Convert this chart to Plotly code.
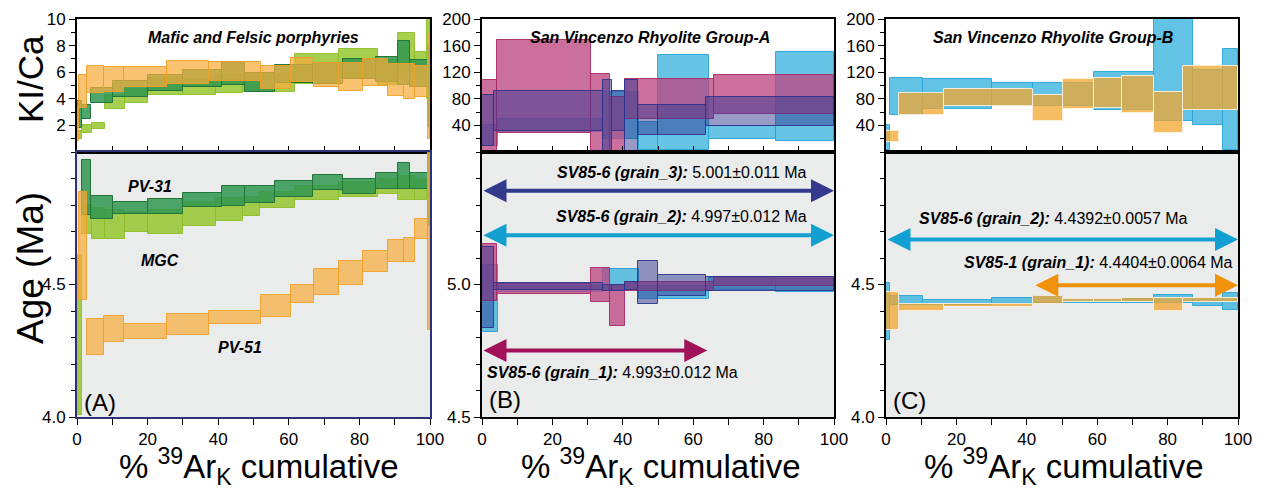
import plotly.graph_objects as go

# ---------------- DATA ----------------
# Panel A (Mafic and Felsic porphyries)
PV31_EDGES = [0, 1.5, 4, 10.2, 20.2, 30, 41, 47.7, 56.2, 66.8, 75.4, 84.8, 90.8, 94.3, 99.3, 100]
PV31_KCA_LO = [1.8, 2.5, 3.7, 4.13, 4.55, 4.9, 5.05, 4.5, 5.2, 5.12, 5.5, 5.25, 5.07, 4.88, 1.9]
PV31_KCA_HI = [3.8, 3.56, 4.8, 5.37, 5.8, 6.2, 6.7, 5.94, 6.56, 6.66, 7.03, 7.18, 8.34, 6.9, 8.0]
PV31_AGE_LO = [None, 4.762, 4.747, 4.765, 4.765, 4.794, 4.796, 4.806, 4.83, 4.857, 4.84, 4.86, 4.86, 4.86, 4.72]
PV31_AGE_HI = [None, 4.97, 4.834, 4.81, 4.823, 4.844, 4.872, 4.872, 4.892, 4.913, 4.9, 4.92, 4.957, 4.92, 4.995]

MGC_EDGES = [0, 1.3, 4.2, 7.9, 13.6, 20, 30, 39.4, 46.9, 51.8, 61.8, 74.3, 85.2, 90.8, 95.8, 99.2, 100]
MGC_KCA_LO = [1.0, 1.4, 1.7, 3.2, 3.7, 4.25, 4.25, 4.43, 4.5, 4.5, 5.12, 5.57, 5.05, 6.04, 5.5, 4.0]
MGC_KCA_HI = [1.6, 2.0, 2.2, 4.25, 4.75, 5.55, 5.4, 5.8, 5.87, 5.87, 7.4, 7.77, 6.9, 8.96, 7.5, 10]
MGC_AGE_LO = [4.007, 4.69, 4.67, 4.67, 4.70, 4.69, 4.72, 4.74, 4.76, 4.787, 4.82, 4.83, 4.84, 4.82, 4.82, None]
MGC_AGE_HI = [4.61, 4.80, 4.787, 4.78, 4.775, 4.78, 4.81, 4.825, 4.83, 4.85, 4.87, 4.888, 4.897, 4.91, 4.897, None]

PV51_EDGES = [0, 0.7, 2.8, 7.6, 13.3, 25.5, 37.4, 52, 60.6, 67.2, 74.3, 81.1, 88.1, 92.5, 95.7, 99.3, 100]
PV51_KCA_LO = [0.8, 3.3, 4.4, 4.5, 4.9, 5.12, 5.37, 4.75, 5.25, 4.9, 4.6, 4.95, 4.2, 4.0, 4.1, 1.0]
PV51_KCA_HI = [3.3, 5.8, 6.5, 6.4, 6.36, 6.86, 6.8, 6.5, 7.1, 6.7, 6.7, 7.0, 6.6, 6.6, 6.5, 8.8]
PV51_AGE_LO = [None, 4.44, 4.234, 4.284, 4.293, 4.31, 4.35, 4.376, 4.43, 4.46, 4.50, 4.546, 4.586, 4.586, 4.67, 4.33]
PV51_AGE_HI = [None, 4.85, 4.37, 4.38, 4.35, 4.389, 4.40, 4.46, 4.50, 4.557, 4.59, 4.626, 4.668, 4.674, 4.747, 4.995]

# Panel B (San Vincenzo Rhyolite Group-A), sample SV85-6
G1_EDGES = [0, 4.4, 31, 36.4, 40.7, 66, 100]
G1_KCA_LO = [1, 29, 1, 1, 50, 57]
G1_KCA_HI = [108, 168, 117, 82, 110, 116]
G1_AGE_LO = [4.937, 4.966, 4.933, 4.842, 4.975, 4.994]
G1_AGE_HI = [5.154, 5.003, 5.063, 5.0, 5.009, 5.03]

G2_EDGES = [0, 4.6, 34.5, 44.7, 50.1, 64.5, 83.6, 100]
G2_KCA_LO = [9, 30, 20, 3, 3, 20, 16]
G2_KCA_HI = [40, 50, 90, 45, 146, 39, 151]
G2_AGE_LO = [4.82, 4.97, 4.98, 4.946, 4.946, 4.98, 4.972]
G2_AGE_HI = [5.073, 4.994, 5.057, 4.994, 4.994, 5.025, 5.019]

G3_EDGES = [0, 3.3, 34.5, 36.9, 40.7, 44.3, 50.1, 63.5, 100]
G3_KCA_LO = [9, 31, 1, 31, 1, 26, 26, 39]
G3_KCA_HI = [86, 91, 108, 91, 108, 70, 70, 82]
G3_AGE_LO = [4.836, 4.98, 4.975, 4.975, 4.98, 4.928, 4.956, 4.975]
G3_AGE_HI = [5.143, 5.004, 5.0, 5.0, 5.01, 5.088, 5.034, 5.029]

# Panel C (San Vincenzo Rhyolite Group-B)
CB_EDGES = [0, 1, 10.4, 30.1, 41.9, 50.2, 59.2, 76.2, 87.3, 95.8, 100]
CB_KCA_LO = [3, 55, 65, 69, 69, 69, 63, 46, 40, 3]
CB_KCA_HI = [40, 112, 110, 104, 104, 104, 120, 205, 124, 155]
CB_AGE_LO = [4.29, 4.424, 4.424, 4.428, 4.43, 4.43, 4.43, 4.43, 4.418, 4.405]
CB_AGE_HI = [4.506, 4.456, 4.44, 4.45, 4.456, 4.445, 4.447, 4.46, 4.45, 4.468]

CO_EDGES = [0, 3.6, 16.5, 41.9, 50.2, 59.2, 67, 76.2, 84.5, 100]
CO_KCA_LO = [15, 55, 69, 46, 65, 66, 58, 29, 63]
CO_KCA_HI = [32, 88, 95, 85, 110, 111, 115, 90, 129]
CO_AGE_LO = [4.33, 4.399, 4.414, 4.428, 4.434, 4.434, 4.433, 4.399, 4.433]
CO_AGE_HI = [4.471, 4.427, 4.427, 4.456, 4.446, 4.446, 4.45, 4.45, 4.45]

# Plateau ages (labels, value, arrow extent)
B_PLATEAUS = [
    ("SV85-6 (grain_3):", "5.001±0.011 Ma", 5.354, 0, 100),
    ("SV85-6 (grain_2):", "4.997±0.012 Ma", 5.186, 0, 100),
    ("SV85-6 (grain_1):", "4.993±0.012 Ma", 4.751, 0, 64),
]
C_PLATEAUS = [
    ("SV85-6 (grain_2):", "4.4392±0.0057 Ma", 4.670, 0, 100),
    ("SV85-1 (grain_1):", "4.4404±0.0064 Ma", 4.497, 42, 100),
]

# ---------------- FIGURE ----------------
W, H = 1267, 493
FONT = "Liberation Sans, Arial, Helvetica, sans-serif"


def px(x):
    return x / W


def py(y):
    return 1 - y / H


def steps(edges, lo, hi, xa, ya, fill, line, lw=1):
    xs, ws, bs, ys = [], [], [], []
    for a, b, l, h in zip(edges[:-1], edges[1:], lo, hi):
        xs.append((a + b) / 2)
        ws.append(b - a)
        bs.append(l)
        ys.append(None if (l is None or h is None) else h - l)
    return go.Bar(x=xs, y=ys, base=bs, width=ws, xaxis=xa, yaxis=ya,
                  marker=dict(color=fill, line=dict(color=line, width=lw)),
                  showlegend=False, hoverinfo="skip")


fig = go.Figure()

C_PV31 = ("rgba(48,150,80,0.85)", "#23763a")
C_MGC = ("rgba(145,195,35,0.8)", "rgba(140,190,40,0.9)")
C_PV51 = ("rgba(246,172,60,0.72)", "rgba(240,160,40,0.9)")
C_G1 = ("rgba(188,70,130,0.78)", "rgba(170,40,100,0.9)")
C_G2 = ("rgba(60,180,222,0.78)", "rgba(40,160,210,0.9)")
C_G3 = ("rgba(50,55,145,0.5)", "rgba(45,50,140,0.9)")
C_CB = ("rgba(60,180,222,0.8)", "rgba(40,165,215,0.9)")
C_CO = ("rgba(242,165,45,0.75)", "rgba(255,240,220,0.9)")

# Panel A
fig.add_trace(steps(MGC_EDGES, MGC_KCA_LO, MGC_KCA_HI, "x", "y", *C_MGC))
fig.add_trace(steps(PV31_EDGES, PV31_KCA_LO, PV31_KCA_HI, "x", "y", *C_PV31))
fig.add_trace(steps(PV51_EDGES, PV51_KCA_LO, PV51_KCA_HI, "x", "y", *C_PV51))
fig.add_trace(steps(MGC_EDGES, MGC_AGE_LO, MGC_AGE_HI, "x2", "y2", *C_MGC))
fig.add_trace(steps(PV31_EDGES, PV31_AGE_LO, PV31_AGE_HI, "x2", "y2", *C_PV31))
fig.add_trace(steps(PV51_EDGES, PV51_AGE_LO, PV51_AGE_HI, "x2", "y2", *C_PV51))
# Panel B
fig.add_trace(steps(G2_EDGES, G2_KCA_LO, G2_KCA_HI, "x3", "y3", *C_G2))
fig.add_trace(steps(G1_EDGES, G1_KCA_LO, G1_KCA_HI, "x3", "y3", *C_G1))
fig.add_trace(steps(G3_EDGES, G3_KCA_LO, G3_KCA_HI, "x3", "y3", *C_G3))
fig.add_trace(steps(G2_EDGES, G2_AGE_LO, G2_AGE_HI, "x4", "y4", *C_G2))
fig.add_trace(steps(G1_EDGES, G1_AGE_LO, G1_AGE_HI, "x4", "y4", *C_G1))
fig.add_trace(steps(G3_EDGES, G3_AGE_LO, G3_AGE_HI, "x4", "y4", *C_G3))
# Panel C
fig.add_trace(steps(CB_EDGES, CB_KCA_LO, CB_KCA_HI, "x5", "y5", *C_CB))
fig.add_trace(steps(CO_EDGES, CO_KCA_LO, CO_KCA_HI, "x5", "y5", *C_CO))
fig.add_trace(steps(CB_EDGES, CB_AGE_LO, CB_AGE_HI, "x6", "y6", *C_CB))
fig.add_trace(steps(CO_EDGES, CO_AGE_LO, CO_AGE_HI, "x6", "y6", *C_CO))

tickfont = dict(family=FONT, size=17, color="black")
XDOM = {"A": [px(77), px(430)], "B": [px(482), px(834)], "C": [px(886), px(1238)]}
YTOP = [py(152), py(19)]
YBOT = [py(417), py(152)]


def top_x(dom, anchor):
    return dict(domain=dom, anchor=anchor, range=[0, 100], showline=True, mirror=True,
                linecolor="black", linewidth=2, ticks="inside", dtick=10, tick0=0, ticklen=6,
                tickcolor="black", showticklabels=False, showgrid=False, zeroline=False,
                automargin=False)


def bot_x(dom, anchor, lc):
    return dict(domain=dom, anchor=anchor, range=[0, 100], showline=True, mirror=True,
                linecolor=lc, linewidth=2, ticks="outside", tickvals=[0, 20, 40, 60, 80, 100],
                ticklen=6, tickwidth=1, tickcolor="black", tickfont=tickfont,
                minor=dict(ticks="outside", dtick=10, tick0=0, ticklen=6, tickcolor="black"),
                showgrid=False, zeroline=False, automargin=False)


def y_ax(dom, anchor, rng, vals, texts, mdt, lc="black"):
    return dict(domain=dom, anchor=anchor, range=rng, showline=True, mirror=True,
                linecolor=lc, linewidth=2, ticks="outside", tickvals=vals, ticktext=texts,
                ticklen=6, tickcolor="black", tickfont=tickfont,
                minor=dict(ticks="outside", dtick=mdt, tick0=rng[0], ticklen=4, tickcolor="black"),
                showgrid=False, zeroline=False, automargin=False)


NAVY = "#2c3179"
kca_a = [2, 4, 6, 8, 10]
kca_b = [40, 80, 120, 160, 200]
layout = dict(
    width=W, height=H, autosize=False, margin=dict(l=0, r=0, t=0, b=0, pad=0),
    paper_bgcolor="white", plot_bgcolor="white", barmode="overlay", bargap=0,
    xaxis=top_x(XDOM["A"], "y"),
    yaxis=y_ax(YTOP, "x", [0, 10], kca_a, [str(v) for v in kca_a], 1),
    xaxis2=bot_x(XDOM["A"], "y2", NAVY),
    yaxis2=y_ax(YBOT, "x2", [4.0, 5.0], [4.0, 4.5], ["4.0", "4.5"], 0.1, NAVY),
    xaxis3=top_x(XDOM["B"], "y3"),
    yaxis3=y_ax(YTOP, "x3", [0, 200], kca_b, [str(v) for v in kca_b], 20),
    xaxis4=bot_x(XDOM["B"], "y4", "black"),
    yaxis4=y_ax(YBOT, "x4", [4.5, 5.5], [4.5, 5.0], ["4.5", "5.0"], 0.1),
    xaxis5=top_x(XDOM["C"], "y5"),
    yaxis5=y_ax(YTOP, "x5", [0, 200], kca_b, [str(v) for v in kca_b], 20),
    xaxis6=bot_x(XDOM["C"], "y6", "black"),
    yaxis6=y_ax(YBOT, "x6", [4.0, 5.0], [4.0, 4.5], ["4.0", "4.5"], 0.1),
)
fig.update_layout(**layout)

# grey background for the age panels
for n in ("2", "4", "6"):
    fig.add_shape(type="rect", xref=f"x{n} domain", yref=f"y{n} domain", x0=0, x1=1, y0=0, y1=1,
                  fillcolor="#eaebeb", line_width=0, layer="below")

ann = []


def txt_ann(text, x, y, size, xanchor="center", angle=0):
    return dict(text=text, x=px(x), y=py(y), xref="paper", yref="paper", xanchor=xanchor,
                yanchor="middle", textangle=angle, showarrow=False,
                font=dict(family=FONT, size=size, color="black"))


# axis titles
ann.append(txt_ann("KI/Ca", 30, 79, 35, angle=-90))
ann.append(txt_ann("Age (Ma)", 30, 268, 37, angle=-90))
for cx in (259, 661, 1064):
    ann.append(txt_ann("% <sup>39</sup>Ar<sub>K</sub> cumulative", cx, 466, 33))
# panel titles
for t, cx in (("Mafic and Felsic porphyries", 253), ("San Vincenzo Rhyolite Group-A", 650),
              ("San Vincenzo Rhyolite Group-B", 1053)):
    ann.append(txt_ann(f"<b><i>{t}</i></b>", cx, 37, 16))
# sample labels panel A
for t, cx, cy in (("PV-31", 150, 186), ("MGC", 160, 260), ("PV-51", 240, 347)):
    ann.append(txt_ann(f"<b><i>{t}</i></b>", cx, cy, 16))
# panel letters
for t, lx, ly in (("(A)", 82, 402), ("(B)", 487, 399), ("(C)", 891, 400)):
    ann.append(txt_ann(t, lx, ly, 24, xanchor="left"))

# plateau arrows + labels
B_COLORS = ["#333a8c", "#139fd0", "#a0125a"]
B_LABEL_POS = [(92.9, 5.424, "right"), (92.9, 5.258, "right"), (0.8, 4.667, "left")]
for (name, val, yv, x0, x1), col, (lx, ly, anc) in zip(B_PLATEAUS, B_COLORS, B_LABEL_POS):
    ann.append(dict(x=x1, y=yv, ax=x0, ay=yv, xref="x4", yref="y4", axref="x4", ayref="y4",
                    text="", showarrow=True, arrowside="end+start", arrowhead=2, arrowsize=1.15,
                    arrowwidth=4, arrowcolor=col, standoff=0, startstandoff=0))
    ann.append(dict(x=lx, y=ly, xref="x4", yref="y4", xanchor=anc, yanchor="middle", showarrow=False,
                    text=f"<b><i>{name}</i></b> {val}", font=dict(family=FONT, size=16, color="black")))
C_COLORS = ["#129fd2", "#f0920c"]
C_LABEL_POS = [(47.7, 4.75, "center"), (99.2, 4.583, "right")]
for (name, val, yv, x0, x1), col, (lx, ly, anc) in zip(C_PLATEAUS, C_COLORS, C_LABEL_POS):
    ann.append(dict(x=x1, y=yv, ax=x0, ay=yv, xref="x6", yref="y6", axref="x6", ayref="y6",
                    text="", showarrow=True, arrowside="end+start", arrowhead=2, arrowsize=1.15,
                    arrowwidth=4, arrowcolor=col, standoff=0, startstandoff=0))
    ann.append(dict(x=lx, y=ly, xref="x6", yref="y6", xanchor=anc, yanchor="middle", showarrow=False,
                    text=f"<b><i>{name}</i></b> {val}", font=dict(family=FONT, size=16, color="black")))

fig.update_layout(annotations=ann)
fig.write_html("out.html")
